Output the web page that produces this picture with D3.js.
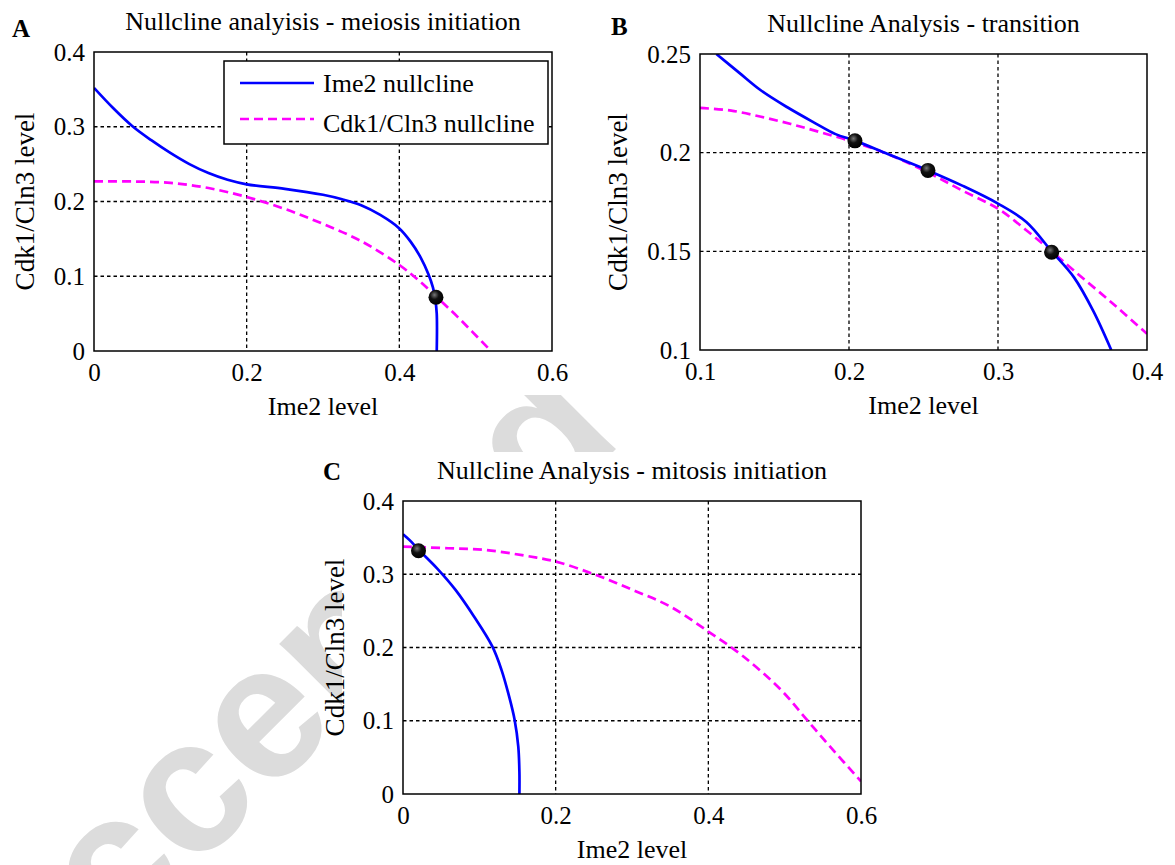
<!DOCTYPE html>
<html>
<head>
<meta charset="utf-8">
<script src="https://cdn.jsdelivr.net/npm/d3@7"></script>
<style>
  body { margin: 0; background: #fff; }
  svg text { font-family: "Liberation Serif", "Times New Roman", serif; }
</style>
</head>
<body>
<div id="chart"></div>
<script>
// panel A - meiosis initiation
var ime2A = [[0,0.352],[0.025,0.325],[0.05,0.301],[0.075,0.282],[0.1,0.265],[0.125,0.25],[0.15,0.238],
  [0.175,0.229],[0.2,0.223],[0.25,0.217],[0.3,0.209],[0.325,0.203],[0.35,0.195],[0.375,0.182],
  [0.4,0.164],[0.415,0.146],[0.428,0.125],[0.438,0.103],[0.444,0.085],[0.447,0.07],[0.449,0.05],[0.449,0]];
var cdkA = [[0,0.227],[0.05,0.2268],[0.1,0.225],[0.15,0.218],[0.2,0.206],[0.25,0.19],[0.3,0.17],
  [0.35,0.147],[0.4,0.115],[0.427,0.093],[0.448,0.073],[0.476,0.046],[0.52,0]];
var dotsA = [[0.448,0.072]];

// panel B - transition
var ime2B = [[0.111,0.25],[0.126,0.2407],[0.141,0.2315],[0.1586,0.223],[0.176,0.2155],[0.191,0.2094],
  [0.204,0.2061],[0.226,0.1993],[0.253,0.191],[0.276,0.1833],[0.3,0.1742],[0.319,0.1649],[0.336,0.15],
  [0.351,0.1368],[0.364,0.1197],[0.376,0.1]];
var cdkB = [[0.1,0.2227],[0.121,0.2213],[0.141,0.2182],[0.161,0.2145],[0.181,0.2103],[0.204,0.2052],
  [0.226,0.1993],[0.253,0.19],[0.276,0.1808],[0.3,0.1716],[0.319,0.1607],[0.336,0.15],[0.351,0.1402],
  [0.376,0.1242],[0.4,0.1082]];
var dotsB = [[0.204,0.206],[0.253,0.191],[0.336,0.1495]];

// panel C - mitosis initiation
var ime2C = [[0,0.3545],[0.0107,0.3445],[0.0203,0.3336],[0.0446,0.308],[0.0688,0.2786],[0.093,0.2423],
  [0.117,0.2014],[0.129,0.1695],[0.139,0.1332],[0.1462,0.1014],[0.151,0.065],[0.1525,0.03],[0.1525,0]];
var cdkC = [[0,0.3377],[0.059,0.3355],[0.1075,0.3332],[0.156,0.326],[0.2,0.3173],[0.253,0.299],
  [0.301,0.2786],[0.35,0.2559],[0.4,0.2218],[0.446,0.1877],[0.495,0.1423],[0.529,0.1014],
  [0.563,0.0605],[0.6,0.0173]];
var dotsC = [[0.0203,0.332]];

var ticksX_AC = [0, 0.2, 0.4, 0.6];
var ticksY_AC = [0, 0.1, 0.2, 0.3, 0.4];
var ticksX_B = [0.1, 0.2, 0.3, 0.4];
var ticksY_B = [0.1, 0.15, 0.2, 0.25];

var legendNames = ["Ime2 nullcline", "Cdk1/Cln3 nullcline"];

var svg = d3.select("#chart").append("svg")
  .attr("width", 1175).attr("height", 865);

var defs = svg.append("defs");
var grad = defs.append("radialGradient").attr("id", "ball")
  .attr("cx", "40%").attr("cy", "35%").attr("r", "65%");
grad.append("stop").attr("offset", "0%").attr("stop-color", "#777");
grad.append("stop").attr("offset", "45%").attr("stop-color", "#111");
grad.append("stop").attr("offset", "100%").attr("stop-color", "#000");

// faint watermark, most of it hidden behind the panels
svg.append("text")
  .attr("transform", "translate(20,1045) rotate(-45)")
  .style("font-family", "'Liberation Sans', Arial, sans-serif")
  .style("font-weight", "bold")
  .style("font-size", "190px")
  .attr("fill", "#dcdcdc")
  .text("Accepted");
var masks = [[0, 0, 575, 395], [640, 0, 535, 425], [342, 452, 540, 413]];
svg.append("g").selectAll("rect").data(masks).enter().append("rect")
  .attr("x", function(d){ return d[0]; }).attr("y", function(d){ return d[1]; })
  .attr("width", function(d){ return d[2]; }).attr("height", function(d){ return d[3]; })
  .attr("fill", "#fff");

function fmt(v){ return String(+v.toFixed(2)); }

function drawPanel(p){
  var g = svg.append("g");
  var xScale = d3.scaleLinear().domain(p.xd).range([p.left, p.right]);
  var yScale = d3.scaleLinear().domain(p.yd).range([p.bottom, p.top]);

  // dashed grid
  g.append("g").selectAll("line").data(p.tx.slice(1, -1)).enter().append("line")
    .attr("x1", function(d){ return xScale(d); }).attr("x2", function(d){ return xScale(d); })
    .attr("y1", p.top).attr("y2", p.bottom)
    .attr("stroke", "#000").attr("stroke-width", 1.3).attr("stroke-dasharray", "3.5,3");
  g.append("g").selectAll("line").data(p.ty.slice(1, -1)).enter().append("line")
    .attr("y1", function(d){ return yScale(d); }).attr("y2", function(d){ return yScale(d); })
    .attr("x1", p.left).attr("x2", p.right)
    .attr("stroke", "#000").attr("stroke-width", 1.3).attr("stroke-dasharray", "3.5,3");

  var clipId = "clip" + p.name;
  defs.append("clipPath").attr("id", clipId).append("rect")
    .attr("x", p.left).attr("y", p.top)
    .attr("width", p.right - p.left).attr("height", p.bottom - p.top);

  var line = d3.line()
    .x(function(d){ return xScale(d[0]); })
    .y(function(d){ return yScale(d[1]); })
    .curve(d3.curveCatmullRom.alpha(0.5));

  var plot = g.append("g").attr("clip-path", "url(#" + clipId + ")");
  plot.append("path").datum(p.cdk)
    .attr("d", line)
    .attr("fill", "none").attr("stroke", "#ff00ff").attr("stroke-width", 2.7)
    .attr("stroke-dasharray", "9,5");
  plot.append("path").datum(p.ime2)
    .attr("d", line)
    .attr("fill", "none").attr("stroke", "#0000ff").attr("stroke-width", 2.7);

  g.append("g").selectAll("circle").data(p.dots).enter().append("circle")
    .attr("cx", function(d){ return xScale(d[0]); })
    .attr("cy", function(d){ return yScale(d[1]); })
    .attr("r", 7.5)
    .attr("fill", "url(#ball)");

  // box
  g.append("rect")
    .attr("x", p.left).attr("y", p.top)
    .attr("width", p.right - p.left).attr("height", p.bottom - p.top)
    .attr("fill", "none").attr("stroke", "#000").attr("stroke-width", 1.5);

  var xAxis = g.append("g")
    .attr("transform", "translate(0," + p.bottom + ")")
    .call(d3.axisBottom(xScale).tickValues(p.tx).tickSize(0).tickPadding(0).tickFormat(fmt))
    .attr("font-family", null).attr("font-size", null);
  xAxis.select(".domain").remove();
  xAxis.selectAll("text").attr("dy", null).attr("y", 30)
    .style("font-size", "25px").attr("fill", "#000");

  var yAxis = g.append("g")
    .attr("transform", "translate(" + p.left + ",0)")
    .call(d3.axisLeft(yScale).tickValues(p.ty).tickSize(0).tickPadding(9).tickFormat(fmt))
    .attr("font-family", null).attr("font-size", null);
  yAxis.select(".domain").remove();
  yAxis.selectAll("text").style("font-size", "25px").attr("fill", "#000");

  g.append("text")
    .attr("x", (p.left + p.right) / 2).attr("y", p.top - 22)
    .attr("text-anchor", "middle")
    .style("font-size", "26px")
    .text(p.title);

  g.append("text")
    .attr("x", p.letterX).attr("y", p.top - p.letterDy)
    .style("font-size", "25px").style("font-weight", "bold")
    .text(p.name);

  g.append("text")
    .attr("x", (p.left + p.right) / 2).attr("y", p.bottom + 64)
    .attr("text-anchor", "middle")
    .style("font-size", "26px")
    .text("Ime2 level");

  g.append("text")
    .attr("transform", "translate(" + (p.left - p.ylabOff) + "," + ((p.top + p.bottom) / 2) + ") rotate(-90)")
    .attr("text-anchor", "middle")
    .style("font-size", "27px")
    .text("Cdk1/Cln3 level");

  return {x: xScale, y: yScale, g: g};
}

var pA = drawPanel({name: "A", title: "Nullcline analyisis - meiosis initiation",
  left: 94, right: 552, top: 52, bottom: 351, letterX: 12, letterDy: 15, ylabOff: 60,
  xd: [0, 0.6], yd: [0, 0.4], tx: ticksX_AC, ty: ticksY_AC,
  ime2: ime2A, cdk: cdkA, dots: dotsA});

drawPanel({name: "B", title: "Nullcline Analysis - transition",
  left: 700, right: 1147, top: 54, bottom: 350, letterX: 611, letterDy: 19, ylabOff: 73,
  xd: [0.1, 0.4], yd: [0.1, 0.25], tx: ticksX_B, ty: ticksY_B,
  ime2: ime2B, cdk: cdkB, dots: dotsB});

drawPanel({name: "C", title: "Nullcline Analysis - mitosis initiation",
  left: 403, right: 861, top: 501, bottom: 794, letterX: 323, letterDy: 21, ylabOff: 59,
  xd: [0, 0.6], yd: [0, 0.4], tx: ticksX_AC, ty: ticksY_AC,
  ime2: ime2C, cdk: cdkC, dots: dotsC});

// legend in panel A
var leg = pA.g.append("g");
leg.append("rect")
  .attr("x", 224).attr("y", 61).attr("width", 324).attr("height", 83)
  .attr("fill", "#fff").attr("stroke", "#000").attr("stroke-width", 1.5);
var legColors = ["#0000ff", "#ff00ff"];
var legDash = [null, "9,5"];
legendNames.forEach(function(name, i){
  var yy = 83 + i * 36;
  leg.append("line")
    .attr("x1", 240).attr("x2", 314).attr("y1", yy).attr("y2", yy)
    .attr("stroke", legColors[i]).attr("stroke-width", 2.7)
    .attr("stroke-dasharray", legDash[i]);
  leg.append("text")
    .attr("x", 323).attr("y", yy + 9 + i * 4)
    .style("font-size", "26px")
    .text(name);
});
</script>
</body>
</html>
